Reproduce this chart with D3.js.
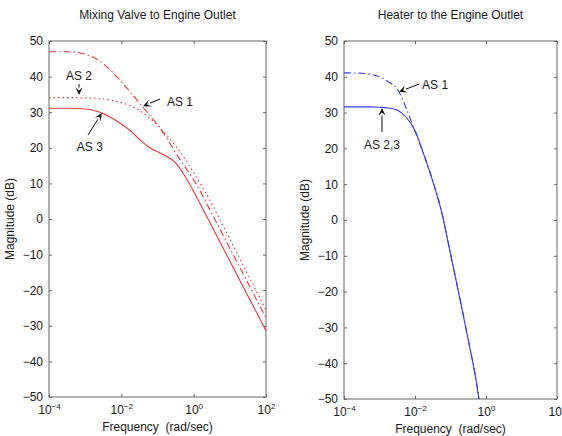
<!DOCTYPE html>
<html>
<head>
<meta charset="utf-8">
<script src="https://cdn.jsdelivr.net/npm/d3@7"></script>
<style>
body { margin: 0; background: #fff; }
text { font-family: "Liberation Sans", Arial, sans-serif; fill: #1a1a1a; }
</style>
</head>
<body>
<svg id="viz"></svg>
<script>
/* data (frequency as log10 exponents, magnitude in dB) */
var mixExp = [-4, -3.5, -3, -2.75, -2.5, -2.25, -2, -1.75, -1.5, -1.25, -1, -0.75, -0.5,
	-0.25, 0, 0.25, 0.5, 0.75, 1, 1.25, 1.5, 1.75, 2];
var mixAS1 = [47.0, 47.0, 46.3, 45.3, 43.6, 41.3, 38.6, 35.6, 32.6, 29.6, 26.5, 22.8, 18.6,
	14.8, 11.0, 6.5, 1.6, -3.3, -8.2, -13.1, -18.0, -22.9, -27.8];
var mixAS2 = [34.1, 34.1, 34.0, 33.9, 33.7, 33.3, 32.7, 31.8, 30.5, 28.6, 26.4, 23.6, 20.5,
	17.0, 13.0, 8.8, 4.3, -0.7, -5.6, -10.6, -15.6, -20.6, -25.6];
var mixAS3 = [31.1, 31.1, 30.9, 30.5, 29.6, 28.3, 26.7, 24.8, 22.4, 20.3, 18.9, 17.6, 15.8,
	12.2, 7.7, 2.9, -2.0, -6.9, -11.8, -16.7, -21.6, -26.5, -31.4];

var heatExp = [-4, -3.5, -3.25, -3, -2.75, -2.5, -2.25, -2, -1.75, -1.5, -1.25, -1, -0.75,
	-0.5, -0.25, -0.2];
var heatAS1 = [41.1, 41.0, 40.7, 40.0, 38.6, 36.6, 31.3, 24.8, 18.4, 11.0, 2.4, -9.4, -21.2,
	-33.4, -46.5, -50];
var heatAS23 = [31.6, 31.6, 31.6, 31.5, 31.3, 30.7, 28.7, 25.0, 18.2, 10.8, 2.2, -9.5, -21.3,
	-33.5, -46.6, -50];

var xTicks = [1e-4, 1e-2, 1e0, 1e2];
var xTickExp = ["\u22124", "\u22122", "0", "2"];
var yTicks = [-50, -40, -30, -20, -10, 0, 10, 20, 30, 40, 50];

var titles = ["Mixing Valve to Engine Outlet", "Heater to the Engine Outlet"];

/* annotations: text spot, arrow tail and arrow tip, all in data units */
var mixNotes = [
	{ label: "AS 2", anchor: "middle", tx: -3.17, ty: 40.3, ax: -3.17, ay: 37.9, bx: -3.17, by: 34.8 },
	{ label: "AS 1", anchor: "start", tx: -0.74, ty: 32.9, ax: -0.93, ay: 33.7, bx: -1.40, by: 31.7 },
	{ label: "AS 3", anchor: "middle", tx: -2.87, ty: 20.2, ax: -2.92, ay: 23.6, bx: -2.54, by: 29.8 }
];
var heatNotes = [
	{ label: "AS 1", anchor: "start", tx: -1.80, ty: 37.7, ax: -1.88, ay: 38.0, bx: -2.45, by: 35.8 },
	{ label: "AS 2,3", anchor: "middle", tx: -2.93, ty: 21.0, ax: -2.93, ay: 24.6, bx: -2.93, by: 31.3 }
];

var red = "#e8393f", blue = "#3b3bef";

var svg = d3.select("#viz")
	.attr("width", 562)
	.attr("height", 436)
	.style("display", "block");

svg.append("rect").attr("width", 562).attr("height", 436).attr("fill", "#fff");

var defs = svg.append("defs");

var drawPanel = function(p){
	var x = d3.scaleLog().domain([1e-4, 1e2]).range([0, p.width]);
	var y = d3.scaleLinear().domain([-50, 50]).range([p.height, 0]);

	var g = svg.append("g")
		.attr("transform", "translate(" + p.left + "," + p.top + ")");

	defs.append("clipPath").attr("id", "clip" + p.id)
		.append("rect").attr("width", p.width).attr("height", p.height);

	// title
	g.append("text")
		.attr("x", p.width / 2).attr("y", -22)
		.attr("text-anchor", "middle")
		.style("font-size", "12px")
		.text(p.title);

	// axes, ticks pointing inward on all four sides
	var bottom = g.append("g")
		.attr("transform", "translate(0," + p.height + ")")
		.call(d3.axisBottom(x).tickValues(xTicks).tickSizeInner(-3).tickSizeOuter(0).tickPadding(8));
	bottom.selectAll(".tick text").text(null)
		.style("font-size", "12px")
		.each(function(d, i){
			var t = d3.select(this);
			t.append("tspan").text("10");
			t.append("tspan").attr("dy", "-0.55em").style("font-size", "8px").text(xTickExp[i]);
		});

	g.append("g")
		.call(d3.axisTop(x).tickValues(xTicks).tickSizeInner(-3).tickSizeOuter(0).tickFormat(""));

	g.append("g")
		.call(d3.axisLeft(y).tickValues(yTicks).tickSizeInner(-3).tickSizeOuter(0).tickPadding(6)
			.tickFormat(function(d){ return d < 0 ? "\u2212" + Math.abs(d) : d; }))
		.selectAll(".tick text").style("font-size", "12px");

	g.append("g")
		.attr("transform", "translate(" + p.width + ",0)")
		.call(d3.axisRight(y).tickValues(yTicks).tickSizeInner(-3).tickSizeOuter(0).tickFormat(""));

	g.selectAll(".domain").remove();
	g.selectAll(".tick line").attr("stroke", "#666");
	g.selectAll(".tick text").attr("fill", "#1a1a1a").style("font-family", "'Liberation Sans', Arial, sans-serif");

	g.append("rect")
		.attr("width", p.width).attr("height", p.height)
		.attr("fill", "none").attr("stroke", "#666").attr("stroke-width", 1);

	// axis labels
	g.append("text")
		.attr("x", p.width / 2).attr("y", p.height + 34)
		.attr("text-anchor", "middle")
		.style("font-size", "12px")
		.style("white-space", "pre")
		.text("Frequency  (rad/sec)");

	g.append("text")
		.attr("transform", "translate(" + p.ylabelX + "," + (p.height / 2) + ") rotate(-90)")
		.attr("text-anchor", "middle")
		.style("font-size", "12px")
		.text("Magnitude (dB)");

	// curves
	var line = d3.line()
		.x(function(d){ return x(Math.pow(10, d[0])); })
		.y(function(d){ return y(d[1]); })
		.curve(d3.curveMonotoneX);

	var curves = g.append("g").attr("clip-path", "url(#clip" + p.id + ")");
	p.series.forEach(function(s){
		curves.append("path")
			.attr("d", line(d3.zip(p.exps, s.values)))
			.attr("fill", "none")
			.attr("stroke", p.color)
			.attr("stroke-width", 1.1)
			.attr("stroke-dasharray", s.dash);
	});

	// annotations
	p.notes.forEach(function(n){
		var ax = x(Math.pow(10, n.ax)), ay = y(n.ay);
		var bx = x(Math.pow(10, n.bx)), by = y(n.by);
		var ang = Math.atan2(by - ay, bx - ax);
		var len = 7.5, half = 3.5;
		var baseX = bx - len * Math.cos(ang), baseY = by - len * Math.sin(ang);
		g.append("line")
			.attr("x1", ax).attr("y1", ay).attr("x2", baseX).attr("y2", baseY)
			.attr("stroke", "#111").attr("stroke-width", 1);
		g.append("polygon")
			.attr("points", [
				[bx, by],
				[baseX + half * Math.sin(ang), baseY - half * Math.cos(ang)],
				[bx - 0.6 * len * Math.cos(ang), by - 0.6 * len * Math.sin(ang)],
				[baseX - half * Math.sin(ang), baseY + half * Math.cos(ang)]
			].map(function(pt){ return pt.join(","); }).join(" "))
			.attr("fill", "#111");
		g.append("text")
			.attr("x", x(Math.pow(10, n.tx))).attr("y", y(n.ty))
			.attr("text-anchor", n.anchor)
			.attr("dominant-baseline", "central")
			.style("font-size", "12px")
			.text(n.label);
	});
};

drawPanel({
	id: 1, left: 49, top: 41, width: 217, height: 356, ylabelX: -35,
	title: titles[0], color: red, exps: mixExp, notes: mixNotes,
	series: [
		{ values: mixAS1, dash: "7,3,1.5,3" },
		{ values: mixAS2, dash: "1.5,3" },
		{ values: mixAS3, dash: null }
	]
});

drawPanel({
	id: 2, left: 344, top: 41, width: 213, height: 358, ylabelX: -35,
	title: titles[1], color: blue, exps: heatExp, notes: heatNotes,
	series: [
		{ values: heatAS1, dash: "7,3,1.5,3" },
		{ values: heatAS23, dash: null }
	]
});
</script>
</body>
</html>
